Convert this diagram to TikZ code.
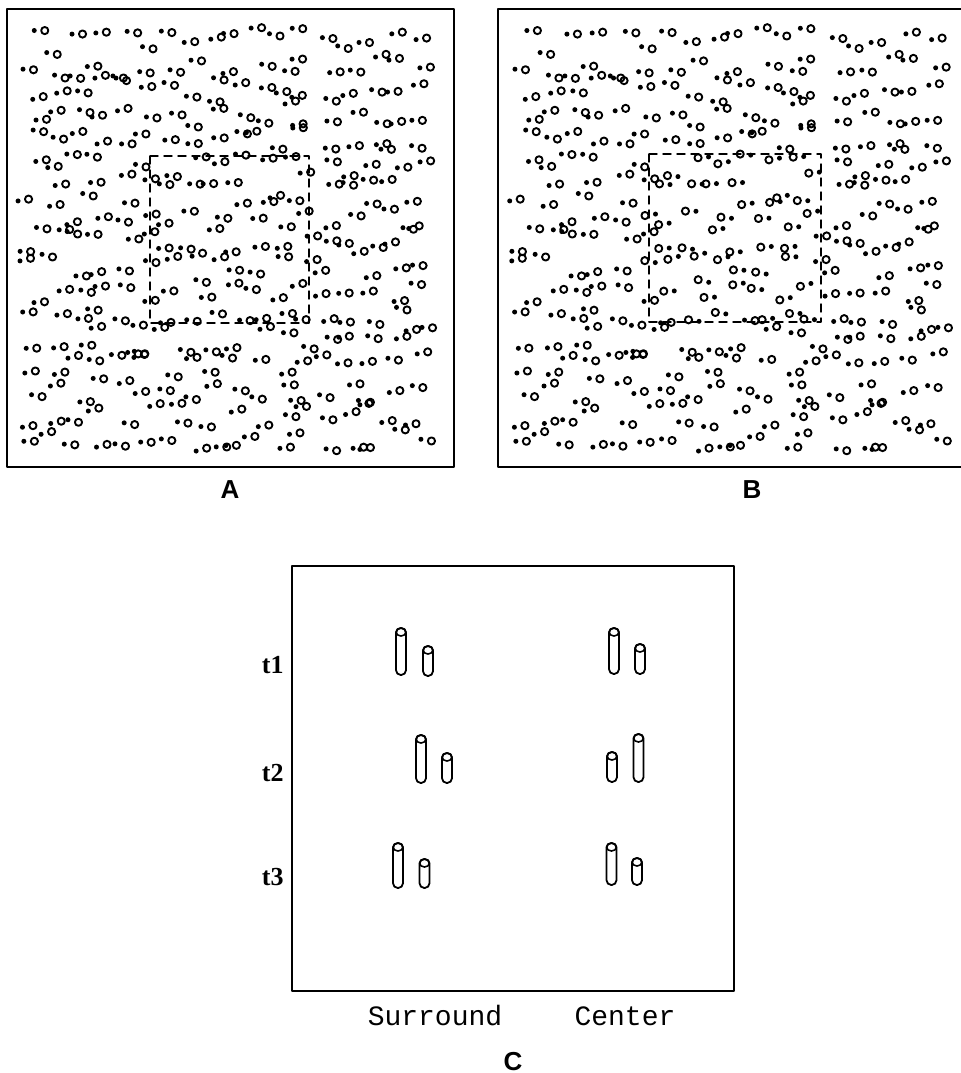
\documentclass[tikz,border=0pt]{standalone}
\usepackage{fontspec}
\setmainfont{Liberation Serif}
\newfontfamily\panelfont{Liberation Sans}
\newfontfamily\axisfont{Liberation Mono}
% one rod of the C panel: x, top, bottom
\newcommand{\cylrod}[3]{%
  \draw[rod] (#1-5,#2) rectangle (#1+5,#3);
  \draw[rodcap] (#1,#2+4) ellipse [x radius=2.5pt, y radius=2pt];}
\begin{document}
\begin{tikzpicture}[x=0.5pt, y=-0.5pt, line join=round, line cap=round,
    frame/.style={line width=1pt},
    inner/.style={dash pattern=on 4pt off 3pt, line width=0.7pt},
    opendot/.style={line width=0.95pt},
    rod/.style={line width=0.9pt, rounded corners=2.4pt},
    rodcap/.style={line width=0.8pt},
    panel/.style={font=\panelfont\bfseries\fontsize{13}{15}\selectfont},
    axis/.style={font=\axisfont\fontsize{14}{16}\selectfont, inner sep=0pt},
    tlabel/.style={font=\bfseries\fontsize{13}{15}\selectfont, inner sep=0pt, anchor=east}]
  \useasboundingbox (0,0) rectangle (961,1073);

  % panel A
  \draw[frame] (7,9) rectangle (454,467);
  \draw[inner] (150,156) rectangle (309,323);
  \pgfmathsetseed{4711}
  \foreach \i in {0,...,17}{
    \foreach \j in {0,...,16}{
      \pgfmathsetmacro{\px}{18+\i*22.6+rnd*20}
      \pgfmathsetmacro{\py}{28+\j*25+rnd*25}
      \pgfmathsetmacro{\pd}{rand*3}
      \fill (\px,\py) circle[radius=1.25pt];
      \draw[opendot] (\px+10.5,\py+\pd) circle[radius=1.8pt];
    }
  }

  % panel B: same pairs, reversed inside the square
  \draw[frame] (961,9) -- (498,9) -- (498,467) -- (961,467);
  \draw[inner] (649,154) rectangle (821,322);
  \pgfmathsetseed{4711}
  \foreach \i in {0,...,17}{
    \foreach \j in {0,...,16}{
      \pgfmathsetmacro{\px}{18+\i*22.6+rnd*20}
      \pgfmathsetmacro{\py}{28+\j*25+rnd*25}
      \pgfmathsetmacro{\pd}{rand*3}
      \pgfmathsetmacro{\bx}{498+1.06*(\px-7)}
      \pgfmathtruncatemacro{\inside}{(\px>145)&&(\px<305)&&(\py>152)&&(\py<320)}
      \ifnum\inside=1
        \draw[opendot] (\bx,\py) circle[radius=1.8pt];
        \fill (\bx+10.5,\py+\pd) circle[radius=1.25pt];
      \else
        \fill (\bx,\py) circle[radius=1.25pt];
        \draw[opendot] (\bx+10.5,\py+\pd) circle[radius=1.8pt];
      \fi
    }
  }

  \node[panel] (lblA) at (230,490) {A};
  \node[panel] (lblB) at (752,490) {B};

  % panel C
  \draw[frame] (292,566) rectangle (734,991);
  \node[tlabel] (t1) at (284,665) {t1};
  \node[tlabel] (t2) at (284,773) {t2};
  \node[tlabel] (t3) at (284,877) {t3};
  \cylrod{401}{628}{675}
  \cylrod{428}{646}{676}
  \cylrod{614}{628}{674}
  \cylrod{640}{644}{674}
  \cylrod{421}{735}{783}
  \cylrod{447}{753}{783}
  \cylrod{612}{752}{782}
  \cylrod{638.5}{734}{782}
  \cylrod{398}{843}{888}
  \cylrod{424.5}{859}{888}
  \cylrod{611.5}{843}{885}
  \cylrod{637}{858}{885}
  \node[axis, anchor=base] (surr) at (435,1025) {Surround};
  \node[axis, anchor=base] (cent) at (625,1025) {Center};
  \node[panel, inner sep=0pt, anchor=base] (lblC) at (513,1070) {C};
\end{tikzpicture}
\end{document}
